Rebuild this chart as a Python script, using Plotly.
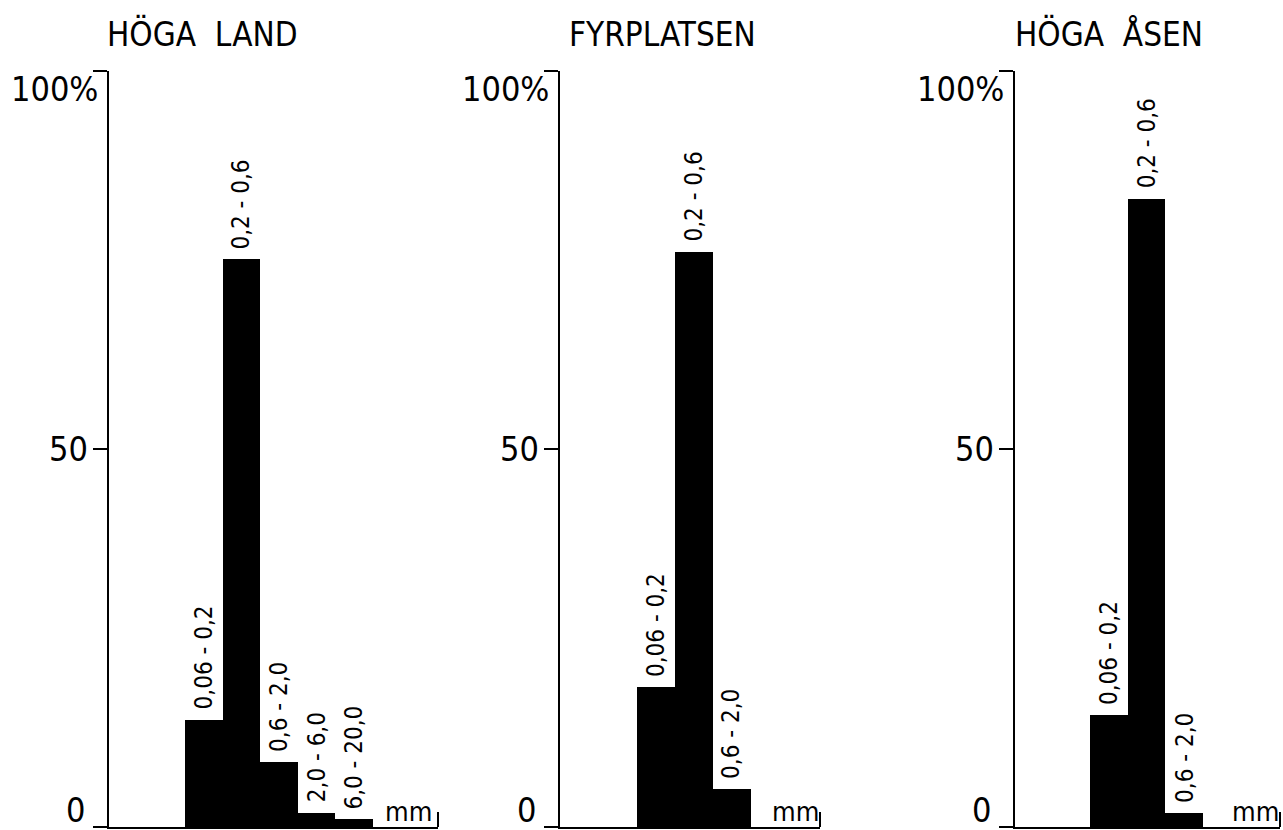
import plotly.graph_objects as go

# ---- data ----
titles = ["HÖGA LAND", "FYRPLATSEN", "HÖGA ÅSEN"]
cats_hoga_land = ["0,06 - 0,2", "0,2 - 0,6", "0,6 - 2,0", "2,0 - 6,0", "6,0 - 20,0"]
vals_hoga_land = [14.2, 75.1, 8.6, 1.9, 1.0]
cats_fyrplatsen = ["0,06 - 0,2", "0,2 - 0,6", "0,6 - 2,0"]
vals_fyrplatsen = [18.5, 76.1, 5.0]
cats_hoga_asen = ["0,06 - 0,2", "0,2 - 0,6", "0,6 - 2,0"]
vals_hoga_asen = [14.8, 83.1, 1.9]
y_tick_vals = [0, 50, 100]
y_tick_text = ["0", "50", "100%"]
unit_label = "mm"

FONT = "DejaVu Sans Condensed, DejaVu Sans, sans-serif"
W, H = 1283, 830

panels = [
    dict(cats=cats_hoga_land, vals=vals_hoga_land, px=(109, 438), rng=[-2.52, 6.23], title_cx=202, mm_shift=-30),
    dict(cats=cats_fyrplatsen, vals=vals_fyrplatsen, px=(560, 820), rng=[-2.53, 4.33], title_cx=662, mm_shift=-25),
    dict(cats=cats_hoga_asen, vals=vals_hoga_asen, px=(1015, 1280), rng=[-2.49, 4.54], title_cx=1109, mm_shift=-25),
]

y_dom = [3 / H, 759 / H]

fig = go.Figure()
annotations = []
shapes = []

for i, p in enumerate(panels, start=1):
    xa = "x" if i == 1 else f"x{i}"
    ya = "y" if i == 1 else f"y{i}"
    fig.add_trace(go.Bar(
        x=p["cats"], y=p["vals"], xaxis=xa, yaxis=ya,
        marker=dict(color="black", line=dict(width=0)),
        width=1.0, showlegend=False, hoverinfo="x+y",
    ))
    xkey = "xaxis" if i == 1 else f"xaxis{i}"
    ykey = "yaxis" if i == 1 else f"yaxis{i}"
    fig.update_layout(**{
        xkey: dict(domain=[p["px"][0] / W, p["px"][1] / W], anchor=ya, type="category",
                   range=p["rng"], showline=True, linecolor="black", linewidth=2,
                   showticklabels=False, ticks="", showgrid=False, zeroline=False,
                   fixedrange=True),
        ykey: dict(domain=y_dom, anchor=xa, range=[0, 100], showline=True,
                   linecolor="black", linewidth=2, tickvals=y_tick_vals,
                   ticks="outside", ticklen=14, tickwidth=2, tickcolor="black",
                   showticklabels=False, showgrid=False, zeroline=False,
                   fixedrange=True),
    })
    xdom = f"{xa} domain"
    ydom = f"{ya} domain"
    # y tick labels
    shifts = {0: (-22, 17), 50: (-19, 0), 100: (-9, -18)}
    for v, t in zip(y_tick_vals, y_tick_text):
        xs, ys = shifts[v]
        annotations.append(dict(xref=xdom, yref=ya, x=0, y=v, text=t,
                                showarrow=False, xanchor="right", yanchor="middle",
                                xshift=xs, yshift=ys,
                                font=dict(family=FONT, size=34, color="black")))
    # bar labels
    for c, v in zip(p["cats"], p["vals"]):
        annotations.append(dict(xref=xa, yref=ya, x=c, y=v, text=c, showarrow=False,
                                textangle=-90, xanchor="center", yanchor="bottom", yshift=8,
                                font=dict(family=FONT, size=24, color="black")))
    # unit label
    annotations.append(dict(xref=xdom, yref=ydom, x=1, y=0, text=unit_label, showarrow=False,
                            xanchor="center", yanchor="bottom", xshift=p["mm_shift"], yshift=-2,
                            font=dict(family=FONT, size=27, color="black")))
    # title
    annotations.append(dict(xref="paper", yref="paper", x=p["title_cx"] / W, y=1 - 34 / H,
                            text=titles[i - 1].replace(" ", "\u00a0\u00a0"), showarrow=False,
                            xanchor="center", yanchor="middle",
                            font=dict(family=FONT, size=33, color="black")))
    # small end tick on baseline
    shapes.append(dict(type="line", xref=xdom, yref=ydom, x0=1, x1=1, y0=0, y1=0.02,
                       line=dict(color="black", width=2)))

fig.update_layout(
    width=W, height=H, margin=dict(l=0, r=0, t=0, b=0),
    paper_bgcolor="white", plot_bgcolor="white",
    bargap=0, annotations=annotations, shapes=shapes, showlegend=False,
)

fig.write_html(
    "out.html",
    config={"displayModeBar": False},
    post_script="document.body.style.margin='0';document.body.style.overflow='hidden';",
)
